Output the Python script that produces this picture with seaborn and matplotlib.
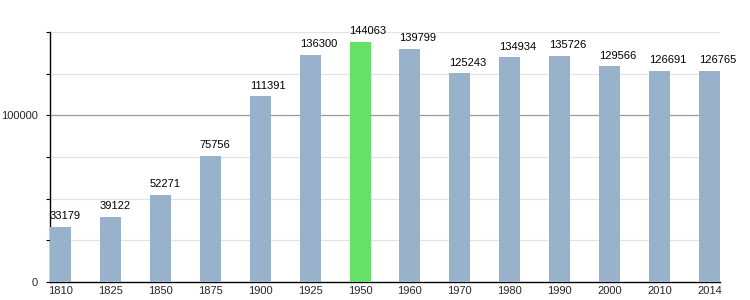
import matplotlib
matplotlib.use("Agg")
import matplotlib.pyplot as plt
import seaborn as sns
import pandas as pd

years = ["1810", "1825", "1850", "1875", "1900", "1925", "1950", "1960",
         "1970", "1980", "1990", "2000", "2010", "2014"]
population = [33179, 39122, 52271, 75756, 111391, 136300, 144063, 139799,
              125243, 134934, 135726, 129566, 126691, 126765]
highlight_year = "1950"

sns.set_style("white")
plt.rcParams['font.family'] = ['Liberation Sans', 'DejaVu Sans']

df = pd.DataFrame({"year": years, "pop": population})
blue = "#98b2cc"
green = "#66e066"
palette = {y: (green if y == highlight_year else blue) for y in years}

fig = plt.figure(figsize=(7.5, 3.0), dpi=100)
ax = fig.add_axes([50/750, 18/300, 670/750, 250/300])

bw = 0.42
sns.barplot(data=df, x="year", y="pop", hue="year", palette=palette,
            legend=False, width=bw, saturation=1, ax=ax, zorder=3,
            edgecolor="none", linewidth=0)

ax.set_xlim(-bw/2, len(years) - 1 + bw/2)
ax.set_ylim(0, 150000)

for yv in [25000, 50000, 75000, 125000, 150000]:
    ax.axhline(yv, color="#e3e3e3", lw=0.9, zorder=1)
ax.axhline(100000, color="#9a9a9a", lw=0.9, zorder=1)

ax.set_yticks([0, 25000, 50000, 75000, 100000, 125000, 150000])
ax.set_yticklabels(["0", "", "", "", "100000", "", ""])
ax.tick_params(axis="y", left=True, direction="out", length=3, width=0.8,
               color="black", pad=6, labelsize=8)
ax.tick_params(axis="x", bottom=False, length=0, pad=3, labelsize=8)

for i, v in enumerate(population):
    ax.annotate(str(v), xy=(i - bw/2, v), xytext=(0, 4), textcoords="offset points",
                ha="left", va="bottom", fontsize=8, color="black", zorder=4)

ax.set_xlabel("")
ax.set_ylabel("")
for s in ["top", "right"]:
    ax.spines[s].set_visible(False)
ax.spines["left"].set_color("black")
ax.spines["bottom"].set_color("black")
ax.spines["left"].set_linewidth(1)
ax.spines["bottom"].set_linewidth(1)

fig.savefig("out.png", dpi=100)
